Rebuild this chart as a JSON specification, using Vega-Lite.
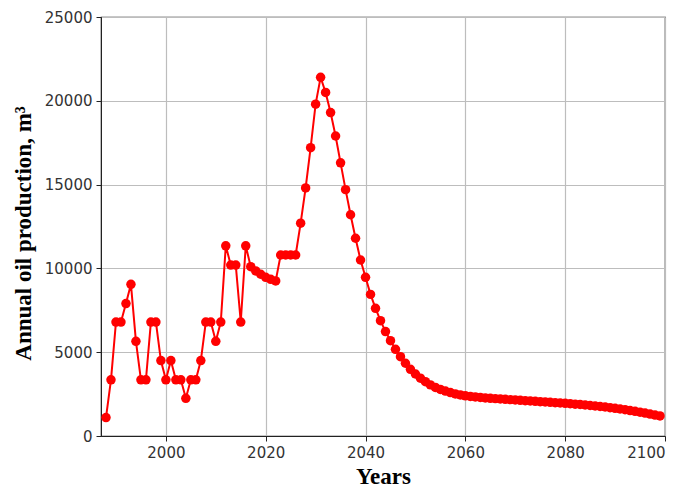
{
  "$schema": "https://vega.github.io/schema/vega-lite/v6.json",
  "autosize": {"type": "none"},
  "width": 564,
  "height": 419,
  "padding": {"left": 101, "top": 17, "right": 18, "bottom": 52},
  "background": "white",
  "config": {
    "view": {"stroke": "#222", "strokeWidth": 1.2},
    "axis": {
      "grid": true,
      "gridColor": "#bdbdbd",
      "gridWidth": 1.2,
      "domainColor": "#222",
      "tickColor": "#222",
      "tickSize": 5,
      "labelFont": "DejaVu Sans",
      "labelFontSize": 15,
      "labelColor": "#333",
      "labelPadding": 4,
      "titleFont": "Liberation Serif",
      "titleFontWeight": "bold",
      "titleFontSize": 23,
      "titleColor": "#000"
    }
  },
  "data": {
    "values": [
      {"year": 1988, "oil": 1100}, {"year": 1989, "oil": 3350}, {"year": 1990, "oil": 6800},
      {"year": 1991, "oil": 6800}, {"year": 1992, "oil": 7900}, {"year": 1993, "oil": 9050},
      {"year": 1994, "oil": 5650}, {"year": 1995, "oil": 3350}, {"year": 1996, "oil": 3350},
      {"year": 1997, "oil": 6800}, {"year": 1998, "oil": 6800}, {"year": 1999, "oil": 4500},
      {"year": 2000, "oil": 3350}, {"year": 2001, "oil": 4500}, {"year": 2002, "oil": 3350},
      {"year": 2003, "oil": 3350}, {"year": 2004, "oil": 2250}, {"year": 2005, "oil": 3350},
      {"year": 2006, "oil": 3350}, {"year": 2007, "oil": 4500}, {"year": 2008, "oil": 6800},
      {"year": 2009, "oil": 6800}, {"year": 2010, "oil": 5650}, {"year": 2011, "oil": 6800},
      {"year": 2012, "oil": 11350}, {"year": 2013, "oil": 10200}, {"year": 2014, "oil": 10200},
      {"year": 2015, "oil": 6800}, {"year": 2016, "oil": 11350}, {"year": 2017, "oil": 10100},
      {"year": 2018, "oil": 9850}, {"year": 2019, "oil": 9650}, {"year": 2020, "oil": 9470},
      {"year": 2021, "oil": 9350}, {"year": 2022, "oil": 9250}, {"year": 2023, "oil": 10800},
      {"year": 2024, "oil": 10800}, {"year": 2025, "oil": 10800}, {"year": 2026, "oil": 10800},
      {"year": 2027, "oil": 12700}, {"year": 2028, "oil": 14800}, {"year": 2029, "oil": 17200},
      {"year": 2030, "oil": 19800}, {"year": 2031, "oil": 21400}, {"year": 2032, "oil": 20500},
      {"year": 2033, "oil": 19300}, {"year": 2034, "oil": 17900}, {"year": 2035, "oil": 16300},
      {"year": 2036, "oil": 14700}, {"year": 2037, "oil": 13200}, {"year": 2038, "oil": 11800},
      {"year": 2039, "oil": 10500}, {"year": 2040, "oil": 9470}, {"year": 2041, "oil": 8450},
      {"year": 2042, "oil": 7620}, {"year": 2043, "oil": 6880}, {"year": 2044, "oil": 6230},
      {"year": 2045, "oil": 5690}, {"year": 2046, "oil": 5170}, {"year": 2047, "oil": 4730},
      {"year": 2048, "oil": 4340}, {"year": 2049, "oil": 3980}, {"year": 2050, "oil": 3700},
      {"year": 2051, "oil": 3450}, {"year": 2052, "oil": 3240}, {"year": 2053, "oil": 3050},
      {"year": 2054, "oil": 2900}, {"year": 2055, "oil": 2780}, {"year": 2056, "oil": 2680},
      {"year": 2057, "oil": 2590}, {"year": 2058, "oil": 2510}, {"year": 2059, "oil": 2450},
      {"year": 2060, "oil": 2400}, {"year": 2061, "oil": 2360}, {"year": 2062, "oil": 2330},
      {"year": 2063, "oil": 2300}, {"year": 2064, "oil": 2270}, {"year": 2065, "oil": 2250},
      {"year": 2066, "oil": 2230}, {"year": 2067, "oil": 2210}, {"year": 2068, "oil": 2190},
      {"year": 2069, "oil": 2170}, {"year": 2070, "oil": 2150}, {"year": 2071, "oil": 2130},
      {"year": 2072, "oil": 2110}, {"year": 2073, "oil": 2090}, {"year": 2074, "oil": 2070},
      {"year": 2075, "oil": 2050}, {"year": 2076, "oil": 2030}, {"year": 2077, "oil": 2010},
      {"year": 2078, "oil": 1990}, {"year": 2079, "oil": 1970}, {"year": 2080, "oil": 1950},
      {"year": 2081, "oil": 1930}, {"year": 2082, "oil": 1900}, {"year": 2083, "oil": 1880},
      {"year": 2084, "oil": 1850}, {"year": 2085, "oil": 1820}, {"year": 2086, "oil": 1790},
      {"year": 2087, "oil": 1760}, {"year": 2088, "oil": 1730}, {"year": 2089, "oil": 1690},
      {"year": 2090, "oil": 1650}, {"year": 2091, "oil": 1610}, {"year": 2092, "oil": 1570},
      {"year": 2093, "oil": 1520}, {"year": 2094, "oil": 1470}, {"year": 2095, "oil": 1420},
      {"year": 2096, "oil": 1370}, {"year": 2097, "oil": 1310}, {"year": 2098, "oil": 1250},
      {"year": 2099, "oil": 1200}
    ]
  },
  "mark": {
    "type": "line",
    "color": "#ff0000",
    "strokeWidth": 2,
    "point": {"filled": true, "color": "#ff0000", "size": 90, "opacity": 1}
  },
  "encoding": {
    "x": {
      "field": "year",
      "type": "quantitative",
      "scale": {"domain": [1987, 2100], "nice": false, "zero": false},
      "axis": {"values": [2000, 2020, 2040, 2060, 2080, 2100], "format": "d", "title": "Years", "titlePadding": 5}
    },
    "y": {
      "field": "oil",
      "type": "quantitative",
      "scale": {"domain": [0, 25000], "nice": false},
      "axis": {"values": [0, 5000, 10000, 15000, 20000, 25000], "format": "d", "title": "Annual oil production, m³", "titleX": -78, "titleY": 216, "titleAngle": -90, "titleAlign": "center", "titleBaseline": "middle"}
    }
  }
}
